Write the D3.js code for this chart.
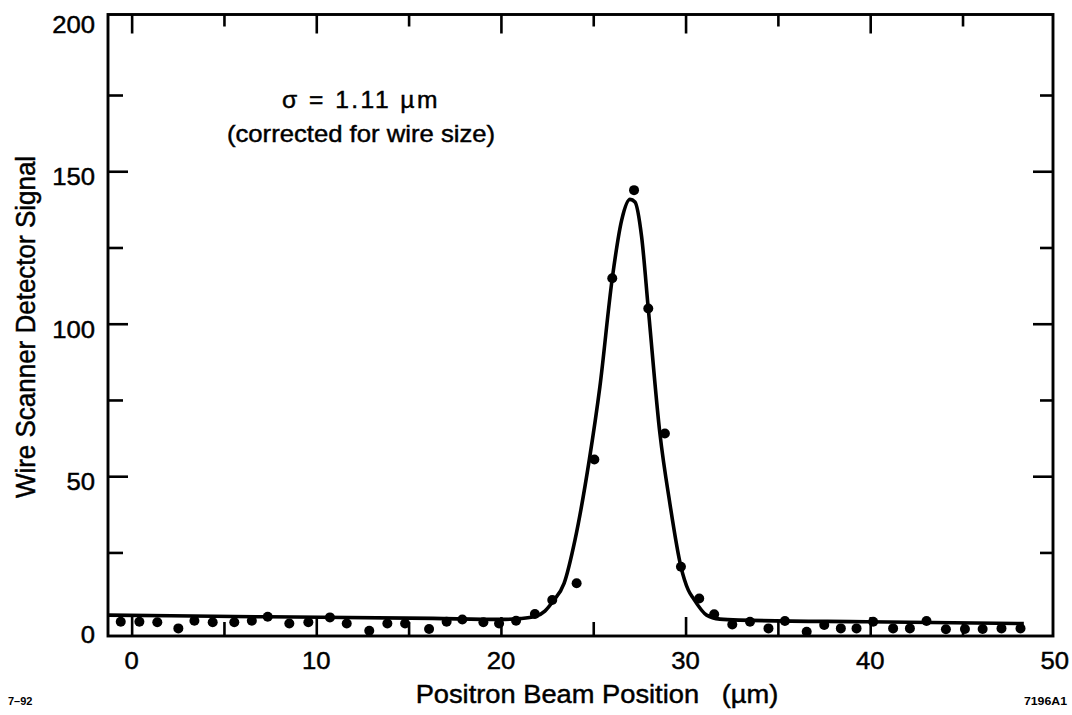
<!DOCTYPE html>
<html>
<head>
<meta charset="utf-8">
<script src="https://cdn.jsdelivr.net/npm/d3@7"></script>
<style>
  html, body { margin: 0; padding: 0; background: #fff; }
  svg { display: block; font-family: "Liberation Sans", Arial, Helvetica, sans-serif; }
  text { white-space: pre; }
</style>
</head>
<body>
<svg id="chart" width="1072" height="715"></svg>
<script>
// ---------------- data ----------------
const positions = [-0.59, 0.42, 1.39, 2.53, 3.40, 4.39, 5.56, 6.51, 7.37, 8.54,
  9.57, 10.74, 11.65, 12.87, 13.85, 14.81, 16.11, 17.06, 17.91, 19.05,
  19.90, 20.82, 21.84, 22.78, 24.10, 25.06, 26.03, 27.21, 27.98, 28.88,
  29.75, 30.74, 31.55, 32.53, 33.49, 34.49, 35.38, 36.56, 37.51, 38.41,
  39.26, 40.16, 41.24, 42.15, 43.05, 44.10, 45.13, 46.09, 47.11, 48.14];
const signals = [2.3, 2.3, 2.1, 0.1, 2.6, 2.1, 2.1, 2.6, 3.9, 1.7,
  2.1, 3.7, 1.7, -0.7, 1.7, 1.7, -0.1, 2.3, 3.0, 2.1,
  1.7, 2.6, 4.8, 9.4, 14.9, 55.5, 114.9, 143.8, 105.0, 64.0,
  20.3, 9.9, 4.7, 1.4, 2.3, 0.1, 2.5, -1.0, 1.2, 0.1,
  0.1, 2.3, 0.1, 0.1, 2.5, -0.2, -0.1, -0.1, 0.1, 0.1];

// fitted curve, sampled by eye along the drawn line
const fitX = [-1.28, 7.33, 16.32, 19.95, 21.03, 21.85, 22.38, 22.84, 23.42, 24.01,
  24.79, 25.36, 26.03, 26.54, 26.99, 27.26, 27.62, 27.98, 28.61, 29.15,
  29.75, 30.15, 30.42, 31.14, 31.86, 32.94, 39.80, 48.32];
const fitY = [4.45, 3.89, 3.37, 3.04, 3.30, 3.96, 5.76, 9.14, 14.85, 29.05,
  55.51, 79.32, 114.87, 133.99, 140.78, 139.9, 128.5, 105.03, 64.04, 41.08,
  20.29, 12.65, 9.93, 4.45, 3.14, 2.81, 2.25, 1.66];

const xMajorTicks = [0, 10, 20, 30, 40];
const xMinorTicks = [5, 15, 25, 35, 45];
const xTickLabels = [0, 10, 20, 30, 40, 50];
const yMajorTicks = [50, 100, 150];
const yMinorTicks = [25, 75, 125, 175];
const yTickLabels = [0, 50, 100, 150, 200];

const xTitle = "Positron Beam Position   (\u00B5m)";
const yTitle = "Wire Scanner Detector Signal";
const noteLine1 = "\u03C3 = 1.11 \u00B5m";
const noteLine2 = "(corrected for wire size)";
const leftCode = "7\u201392";
const rightCode = "7196A1";

// ---------------- drawing ----------------
const svg = d3.select("#chart");
svg.append("rect").attr("width", 1072).attr("height", 715).attr("fill", "#fff");

const x = d3.scaleLinear().domain([-1.28, 49.9]).range([108, 1053]);
const y = d3.scaleLinear().domain([-2.4, 201.4]).range([636, 14.5]);
const [x0, x1] = x.range();
const [yb, yt] = y.range();
const SX = 1.07; // horizontal stretch of the scanned lettering
const TS = 0.45; // slight stroke to mimic the heavy scanned type

// frame
svg.append("rect")
  .attr("x", x0).attr("y", yt)
  .attr("width", x1 - x0).attr("height", yb - yt)
  .attr("fill", "none").attr("stroke", "#000").attr("stroke-width", 2.9);

function tickAxis(axis, tr) {
  const g = svg.append("g").attr("transform", tr).call(axis);
  g.select(".domain").remove();
  g.selectAll(".tick line").attr("stroke", "#000").attr("stroke-width", 2.6);
  g.selectAll(".tick text").remove();
}
tickAxis(d3.axisLeft(y).tickValues(yMajorTicks).tickSize(-20).tickFormat(""), `translate(${x0},0)`);
tickAxis(d3.axisLeft(y).tickValues(yMinorTicks).tickSize(-15).tickFormat(""), `translate(${x0},0)`);
tickAxis(d3.axisRight(y).tickValues(yMajorTicks).tickSize(-20).tickFormat(""), `translate(${x1},0)`);
tickAxis(d3.axisRight(y).tickValues(yMinorTicks).tickSize(-13).tickFormat(""), `translate(${x1},0)`);
tickAxis(d3.axisTop(x).tickValues(xMajorTicks).tickSize(-19).tickFormat(""), `translate(0,${yt})`);
tickAxis(d3.axisTop(x).tickValues(xMinorTicks).tickSize(-12).tickFormat(""), `translate(0,${yt})`);
tickAxis(d3.axisBottom(x).tickValues(xMajorTicks).tickSize(-19).tickFormat(""), `translate(0,${yb})`);
tickAxis(d3.axisBottom(x).tickValues(xMinorTicks).tickSize(-14).tickFormat(""), `translate(0,${yb})`);

function ink(sel) {
  return sel.attr("fill", "#000").attr("stroke", "#000").attr("stroke-width", TS);
}

// tick labels
ink(svg.append("g").selectAll("text").data(yTickLabels).join("text")
  .attr("transform", d => `translate(95,${y(d) + 6}) scale(${SX},1)`)
  .attr("text-anchor", "end").attr("dominant-baseline", "central")
  .attr("font-size", 24)
  .text(d => d));

ink(svg.append("g").selectAll("text").data(xTickLabels).join("text")
  .attr("transform", d => `translate(${x(d)},661) scale(${SX},1)`)
  .attr("text-anchor", "middle").attr("dominant-baseline", "central")
  .attr("font-size", 24)
  .text(d => d));

// axis titles
ink(svg.append("text")
  .attr("transform", `translate(597,703) scale(${SX},1)`)
  .attr("text-anchor", "middle").attr("font-size", 25.5)
  .text(xTitle));
ink(svg.append("text")
  .attr("transform", `translate(35,327) scale(${SX},1) rotate(-90)`)
  .attr("text-anchor", "middle").attr("font-size", 26)
  .text(yTitle));

// annotation
ink(svg.append("text")
  .attr("transform", `translate(361,107.5) scale(${SX},1)`)
  .attr("text-anchor", "middle").attr("font-size", 23).attr("letter-spacing", 2.3)
  .text(noteLine1));
ink(svg.append("text")
  .attr("transform", `translate(361,142) scale(${SX},1)`)
  .attr("text-anchor", "middle").attr("font-size", 24)
  .text(noteLine2));

// figure codes
svg.append("text").attr("x", 8).attr("y", 705)
  .attr("font-size", 11).attr("font-weight", "bold").attr("fill", "#000").text(leftCode);
svg.append("text")
  .attr("transform", `translate(1067,705) scale(1.12,1)`)
  .attr("text-anchor", "end")
  .attr("font-size", 11).attr("font-weight", "bold").attr("fill", "#000").text(rightCode);

// fit curve
const fitPts = fitX.map((v, i) => [v, fitY[i]]);
svg.append("path").datum(fitPts)
  .attr("fill", "none").attr("stroke", "#000").attr("stroke-width", 3.6)
  .attr("stroke-linejoin", "round")
  .attr("d", d3.line().x(d => x(d[0])).y(d => y(d[1])).curve(d3.curveMonotoneX));

// data points
svg.append("g").selectAll("circle").data(positions).join("circle")
  .attr("cx", d => x(d)).attr("cy", (d, i) => y(signals[i]))
  .attr("r", 5).attr("fill", "#000");
</script>
</body>
</html>
